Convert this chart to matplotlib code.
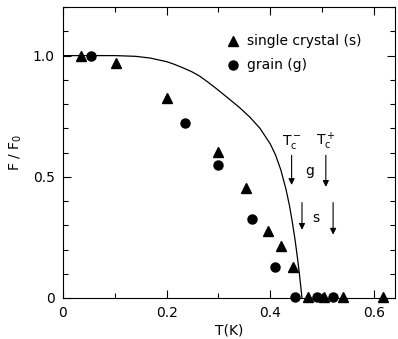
import numpy as np
import matplotlib
matplotlib.use('Agg')
import matplotlib.pyplot as plt
from matplotlib.ticker import MultipleLocator, FixedLocator

plt.rcParams['font.family'] = ['DejaVu Sans']
plt.rcParams['mathtext.default'] = 'regular'

# single crystal (s)
sT = [0.035, 0.102, 0.200, 0.300, 0.353, 0.395, 0.420, 0.443, 0.472, 0.503, 0.540, 0.617]
sF = [1.000, 0.970, 0.826, 0.603, 0.455, 0.277, 0.215, 0.128, 0.005, 0.005, 0.005, 0.005]
# grain (g)
gT = [0.054, 0.235, 0.300, 0.364, 0.409, 0.447, 0.490, 0.520]
gF = [1.000, 0.723, 0.548, 0.326, 0.128, 0.005, 0.005, 0.005]
# theory curve
cT = [0.0, 0.05, 0.10, 0.14, 0.168, 0.20, 0.215, 0.231, 0.248, 0.264, 0.28, 0.297,
      0.32, 0.341, 0.361, 0.38, 0.40, 0.41, 0.42, 0.43, 0.437, 0.443, 0.448, 0.452,
      0.456, 0.461]
cF = [1.0, 1.0, 1.0, 0.997, 0.99, 0.975, 0.964, 0.95, 0.934, 0.915, 0.89, 0.862,
      0.822, 0.785, 0.745, 0.70, 0.635, 0.59, 0.53, 0.45, 0.38, 0.305, 0.235, 0.17,
      0.10, 0.0]

fig = plt.figure(figsize=(3.98, 3.39), dpi=100)
ax = fig.add_axes([0.158, 0.121, 0.834, 0.858])

ax.plot(cT, cF, color='black', lw=0.9)
ax.plot(sT, sF, ls='none', marker='^', ms=6.5, color='black', clip_on=False)
ax.plot(gT, gF, ls='none', marker='o', ms=6.5, color='black', clip_on=False)

# legend drawn by hand
ax.plot([0.328], [1.06], marker='^', ms=6.5, color='black')
ax.plot([0.328], [0.963], marker='o', ms=6.5, color='black')
ax.text(0.355, 1.06, 'single crystal (s)', va='center', fontsize=10)
ax.text(0.355, 0.963, 'grain (g)', va='center', fontsize=10)

# Tc arrows
akw = dict(arrowstyle='-|>', color='black', lw=0.8, mutation_scale=9)
ax.annotate('', xy=(0.441, 0.455), xytext=(0.441, 0.60), arrowprops=akw)
ax.annotate('', xy=(0.507, 0.447), xytext=(0.507, 0.60), arrowprops=akw)
ax.annotate('', xy=(0.461, 0.27), xytext=(0.461, 0.405), arrowprops=akw)
ax.annotate('', xy=(0.521, 0.25), xytext=(0.521, 0.405), arrowprops=akw)
ax.text(0.441, 0.645, r'$T_c^-$', ha='center', va='center', fontsize=10)
ax.text(0.507, 0.645, r'$T_c^+$', ha='center', va='center', fontsize=10)
ax.text(0.475, 0.525, 'g', ha='center', va='center', fontsize=10)
ax.text(0.487, 0.33, 's', ha='center', va='center', fontsize=10)

ax.set_xlim(0, 0.64)
ax.set_ylim(0, 1.2)
ax.xaxis.set_major_locator(FixedLocator([0, 0.2, 0.4, 0.6]))
ax.xaxis.set_minor_locator(MultipleLocator(0.1))
ax.yaxis.set_major_locator(FixedLocator([0, 0.5, 1.0]))
ax.yaxis.set_minor_locator(MultipleLocator(0.1))
ax.set_xticklabels(['0', '0.2', '0.4', '0.6'])
ax.set_yticklabels(['0', '0.5', '1.0'])
ax.tick_params(which='both', direction='in', top=True, right=True, labelsize=10, width=0.8)
ax.tick_params(which='major', length=5.5, pad=6)
ax.tick_params(which='minor', length=3.6)
for s in ax.spines.values():
    s.set_linewidth(0.8)

ax.set_xlabel('T(K)', fontsize=10, labelpad=2)
ax.set_ylabel('F / F$_0$', fontsize=10, labelpad=6)

plt.savefig('out.png', dpi=100)
